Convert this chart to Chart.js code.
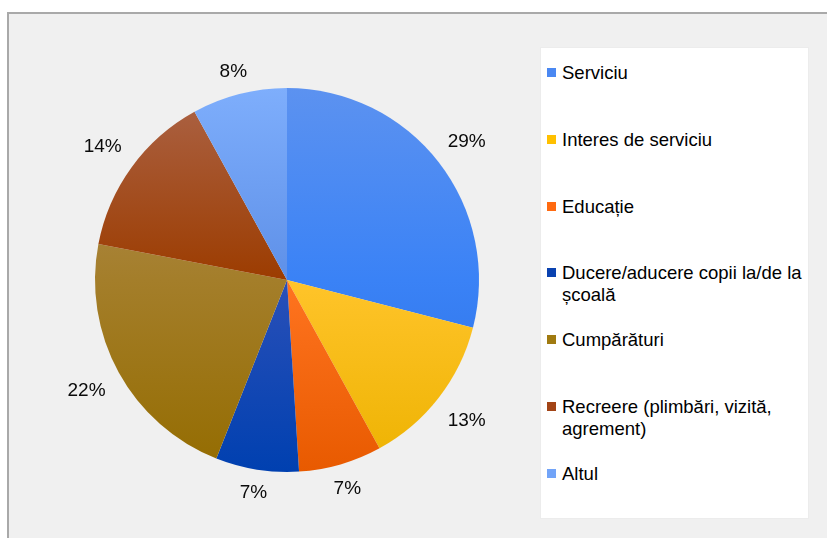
<!DOCTYPE html>
<html lang="ro">
<head>
<meta charset="utf-8">
<script src="https://cdn.jsdelivr.net/npm/chart.js@4/dist/chart.umd.min.js"></script>
<style>
  html, body { margin: 0; padding: 0; background: #ffffff; }
  body { width: 827px; height: 538px; position: relative; overflow: hidden;
         font-family: "Liberation Sans", Arial, sans-serif; }
  #frame { position: absolute; left: 7px; top: 12px; right: 0; bottom: 0;
           background: #f0f0f0; border-top: 2px solid #a9a9a9; border-left: 2px solid #a9a9a9; }
  #legend { position: absolute; left: 541px; top: 48px; width: 267px; height: 470px;
            background: #ffffff; box-shadow: 0 0 0 1px #ececec; }
  .item { position: absolute; left: 0; width: 267px; font-size: 18.5px; line-height: 22px; color: #000; }
  .item .box { position: absolute; left: 6px; top: 6px; width: 9px; height: 9px; }
  .item .txt { position: absolute; left: 21px; width: 246px; }
  #chart { position: absolute; left: 0; top: 0; }
</style>
</head>
<body>
<div id="frame"></div>
<div id="legend"></div>
<canvas id="chart" width="827" height="538"></canvas>
<script>
// Scopul deplasărilor – ponderi (%)
const categories = [
  'Serviciu',
  'Interes de serviciu',
  'Educație',
  'Ducere/aducere copii la/de la școală',
  'Cumpărături',
  'Recreere (plimbări, vizită, agrement)',
  'Altul'
];
const shares = [29, 13, 7, 7, 22, 14, 8];

// Culori: marcaj în legendă și gradient vertical (sus, mijloc, jos) pentru felii
const markerColors = ['#4a88f2', '#ffc000', '#ff6a10', '#0a42b0', '#a07a10', '#a24416', '#72a4f8'];
const sliceShades = [
  ['#5c92f0', '#3a82f6', '#2a6ee0'],
  ['#ffd860', '#ffc42a', '#edb200'],
  ['#ff9040', '#ff7420', '#e85a00'],
  ['#4060c0', '#2a50b8', '#0040b0'],
  ['#b49060', '#a47e2a', '#946c00'],
  ['#ac6448', '#9c3c00', '#963800'],
  ['#7eaefc', '#5e90e8', '#5080e0']
];

// Legenda HTML
const legendEl = document.getElementById('legend');
categories.forEach((name, i) => {
  const it = document.createElement('div');
  it.className = 'item';
  it.style.top = (14 + i * 66.8) + 'px';
  const b = document.createElement('span');
  b.className = 'box';
  b.style.background = markerColors[i];
  const t = document.createElement('span');
  t.className = 'txt';
  t.textContent = name;
  it.appendChild(b);
  it.appendChild(t);
  legendEl.appendChild(it);
});

function sliceFill(context) {
  const chart = context.chart;
  const area = chart.chartArea;
  const shades = sliceShades[context.dataIndex];
  if (!area) return shades[1];
  const g = chart.ctx.createLinearGradient(0, area.top, 0, area.bottom);
  g.addColorStop(0, shades[0]);
  g.addColorStop(0.5, shades[1]);
  g.addColorStop(1, shades[2]);
  return g;
}

// Etichete procentuale în afara feliilor
const outsideLabels = {
  id: 'outsideLabels',
  afterDatasetsDraw(chart) {
    const ctx = chart.ctx;
    const meta = chart.getDatasetMeta(0);
    const values = chart.data.datasets[0].data;
    ctx.save();
    ctx.font = '19px "Liberation Sans", Arial, sans-serif';
    ctx.fillStyle = '#0a0a0a';
    ctx.textAlign = 'center';
    ctx.textBaseline = 'middle';
    meta.data.forEach((arc, i) => {
      const p = arc.getProps(['x', 'y', 'startAngle', 'endAngle', 'outerRadius'], true);
      const mid = (p.startAngle + p.endAngle) / 2;
      const text = values[i] + '%';
      const w = ctx.measureText(text).width;
      const c = Math.cos(mid), s = Math.sin(mid);
      const d = p.outerRadius + 15 + Math.abs(c) * w * 0.58 + Math.abs(s) * 5;
      ctx.fillText(text, p.x + c * d, p.y + s * d + 1);
    });
    ctx.restore();
  }
};

new Chart(document.getElementById('chart'), {
  type: 'pie',
  data: {
    labels: categories,
    datasets: [{
      data: shares,
      backgroundColor: sliceFill,
      borderWidth: 0,
      hoverOffset: 0
    }]
  },
  options: {
    responsive: false,
    animation: false,
    layout: { padding: { left: 95, top: 88, right: 348, bottom: 66 } },
    plugins: {
      legend: { display: false },
      tooltip: { enabled: false }
    }
  },
  plugins: [outsideLabels]
});
</script>
</body>
</html>
